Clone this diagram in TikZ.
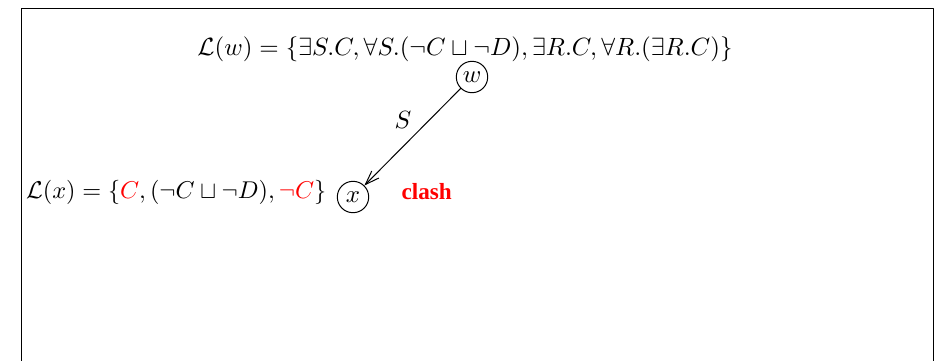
\documentclass[tikz,border=0pt]{standalone}
\usepackage{amsmath, amssymb}
\usepackage{fontspec}
\newfontfamily\clashfont{Liberation Serif}
\usetikzlibrary{arrows.meta, positioning}
\tikzset{
  >={Straight Barb[length=5.6pt, width=4pt]},
  every picture/.style={line cap=round, line join=round},
  indiv/.style={circle, draw, inner sep=1pt, minimum size=12.6pt},
  lab/.style={inner sep=0pt},
  role/.style={above left, inner sep=1.8pt},
  clash/.style={text=red, font=\clashfont\fontsize{9.3}{11}\selectfont\bfseries, inner sep=0pt},
}

\begin{document}
\begin{tikzpicture}[x=0.0141cm, y=-0.0141cm]
  \useasboundingbox (0,0) rectangle (944,360);
  % frame
  \draw (21,8) rectangle (933,380);
  % individuals
  \node[indiv] (w) at (472,77) {$w$};
  \node[indiv] (x) at (353,197) {$x$};
  % labels
  \node[lab] (lw) at (465,49) {$\mathcal{L}(w)=\{\exists S.C,\forall S.(\neg C\sqcup\neg D),\exists R.C,\forall R.(\exists R.C)\}$};
  \node[lab, scale=0.974, transform shape, left=4pt of x, anchor=base east, yshift=-0.6pt] (lx) {$\mathcal{L}(x)=\{\textcolor{red}{C},(\neg C\sqcup\neg D),\textcolor{red}{\neg C}\}$};
  \node[clash, right=12.8pt of x, anchor=base west, yshift=-0.8pt] (cl) {clash};
  % edge
  \draw[->] (w) -- node[role, pos=0.46] {$S$} (x);
\end{tikzpicture}
\end{document}
